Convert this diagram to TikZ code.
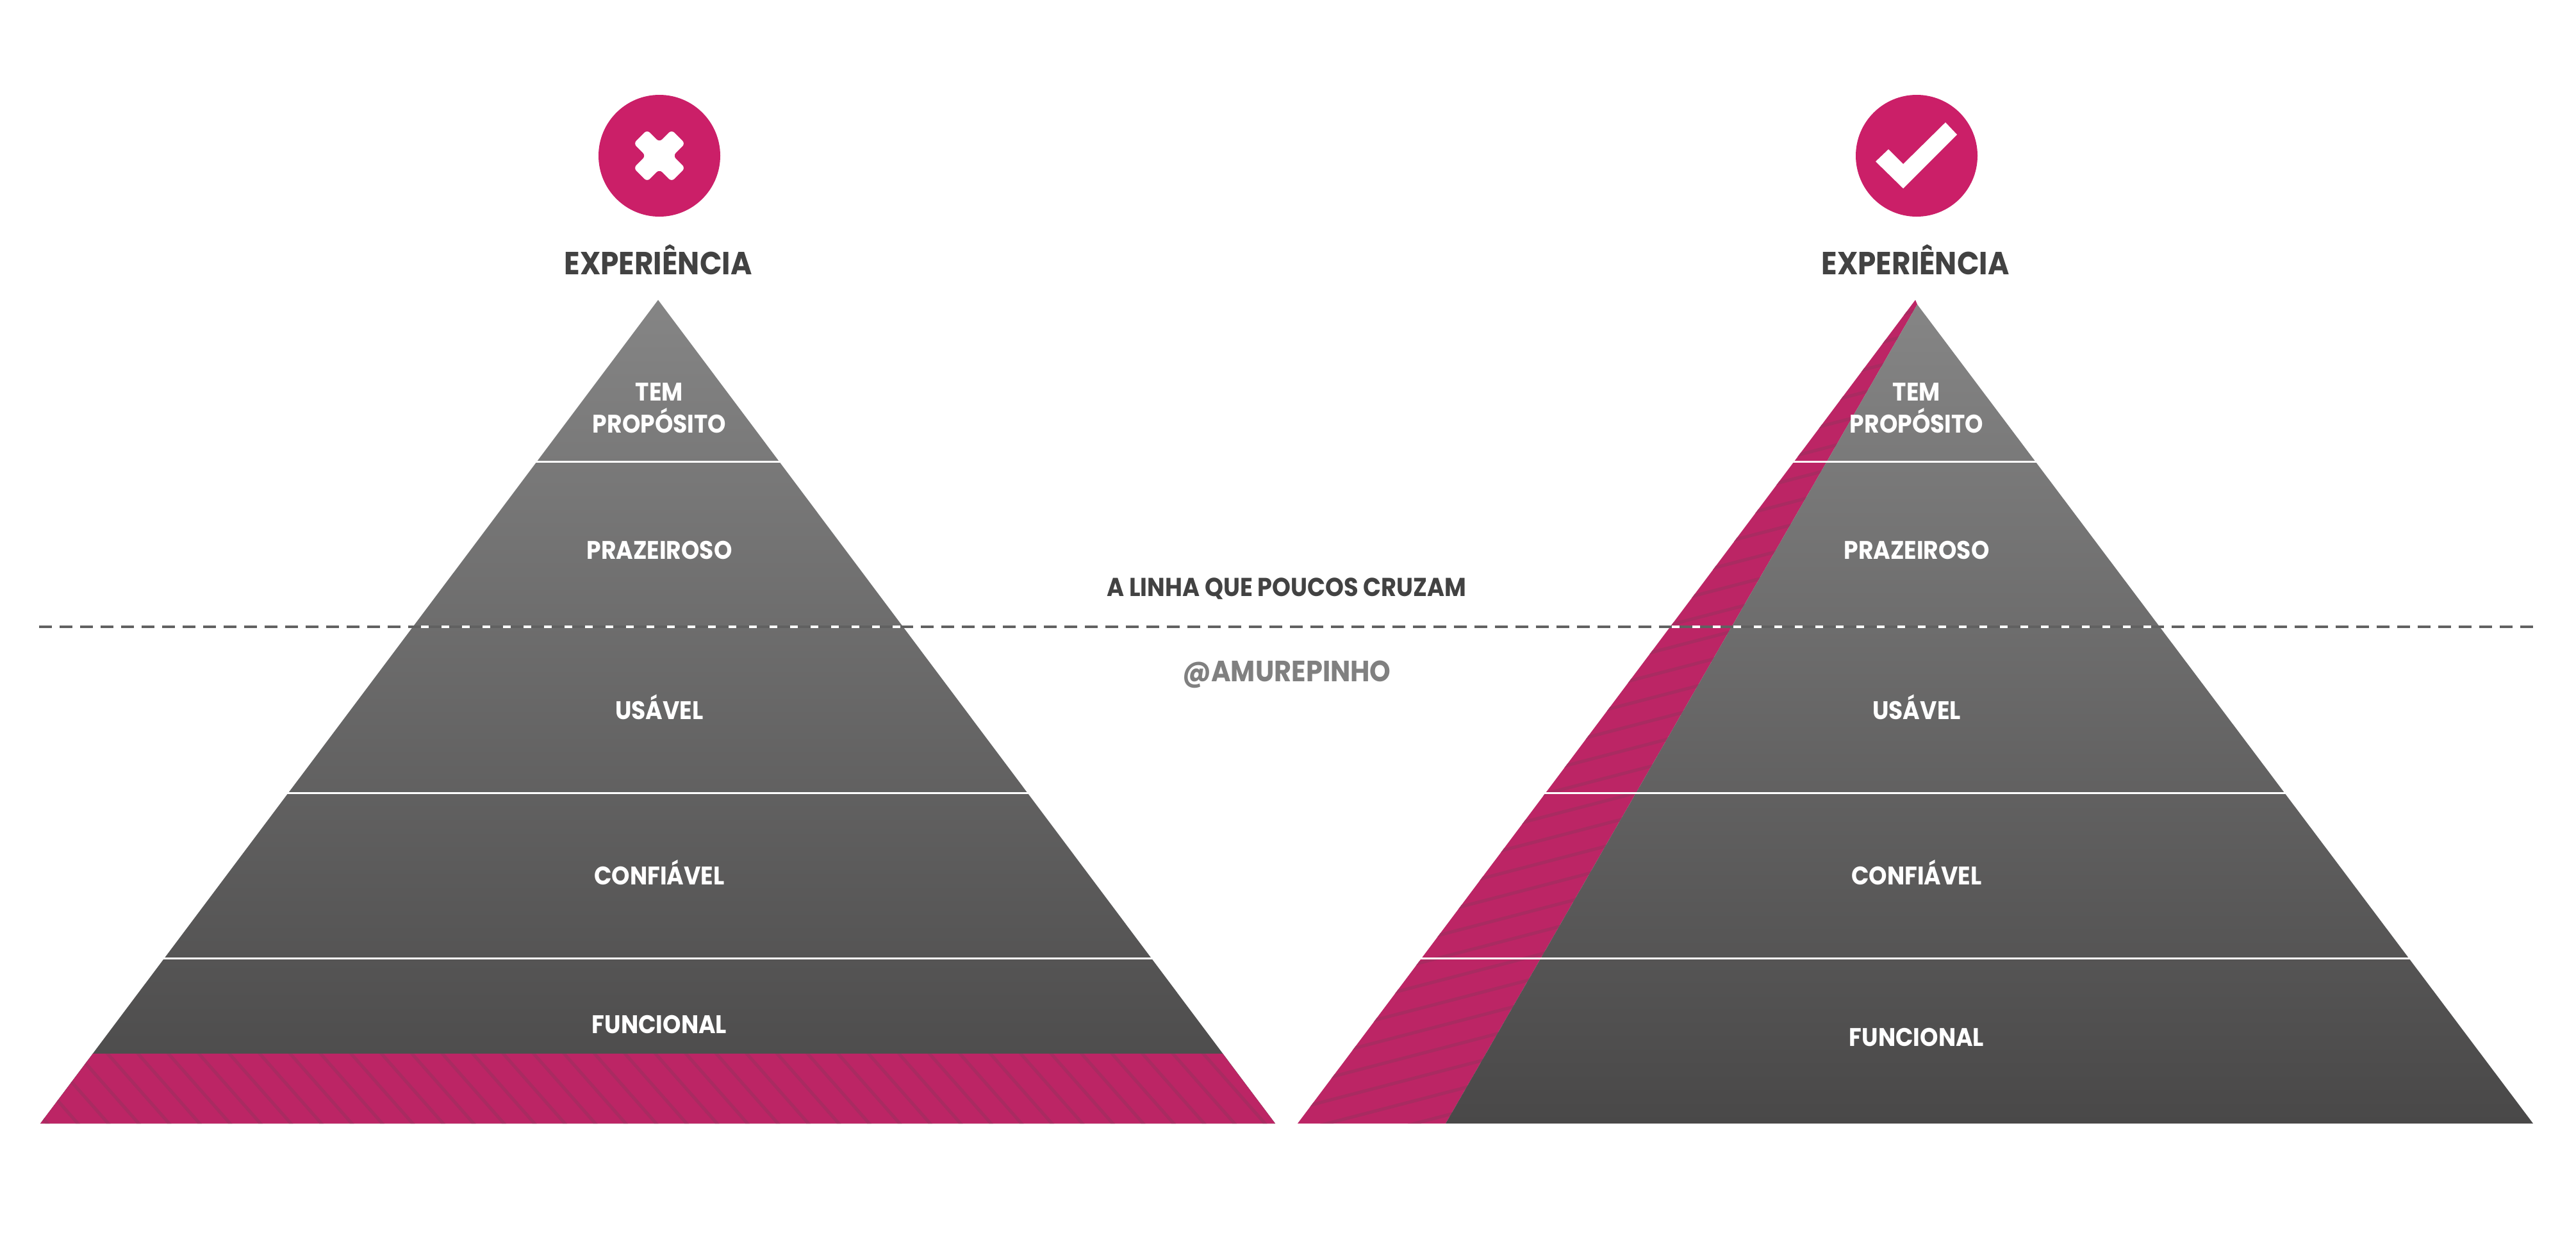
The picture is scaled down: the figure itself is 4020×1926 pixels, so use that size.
\documentclass[tikz,border=0pt]{standalone}
\usepackage{fontspec}
\setmainfont{Poppins}[FakeStretch=0.91]
\usetikzlibrary{positioning}
\definecolor{magenta}{HTML}{CB1F68}
\definecolor{bandpink}{HTML}{BC2565}
\definecolor{stripe}{HTML}{A92B61}
\definecolor{inkgray}{HTML}{424242}
\definecolor{topgray}{HTML}{858585}
\definecolor{basegray}{HTML}{494848}
\tikzset{
  title/.style={font=\fontsize{14.2}{14.2}\selectfont\bfseries,text=inkgray,anchor=base},
  layer/.style={font=\fontsize{11.3}{11.3}\selectfont\bfseries,text=white,anchor=base},
  badge/.style={circle,fill=magenta,minimum size=190*0.1mm,inner sep=0pt},
  divider/.style={white,line width=0.3mm},
  hatch/.style={stripe,line width=0.5mm},
}
\begin{document}
\begin{tikzpicture}[x=0.1mm,y=-0.1mm]
  \useasboundingbox (0,0) rectangle (4020,1926);
  \def \Dividers{720,1237,1495}
  \def \Labels{
    tem/625/TEM,
    proposito/675/PROPÓSITO,
    prazeiroso/872/PRAZEIROSO,
    usavel/1122/USÁVEL,
    confiavel/1380/CONFIÁVEL}
  % left pyramid
  \shade[top color=topgray,bottom color=basegray] (1027,468) -- (1990,1753) -- (63,1753) -- cycle;
  \fill[bandpink] (145,1644) -- (1908,1644) -- (1990,1753) -- (63,1753) -- cycle;
  \begin{scope}
    \clip (145,1644) -- (1908,1644) -- (1990,1753) -- (63,1753) -- cycle;
    \foreach \x in {-108.5,-61,...,2100}{
      \draw[hatch] (\x,1600) -- ++(150,170);
    }
  \end{scope}
  % right pyramid
  \fill[bandpink] (2025,1753) -- (2989,468) -- (2992,475) -- (2256,1753) -- cycle;
  \begin{scope}
    \clip (2025,1753) -- (2989,468) -- (2992,475) -- (2256,1753) -- cycle;
    \foreach \y in {684,719.5,...,1850}{
      \draw[hatch] (1950,\y) -- ++(1100,-286);
    }
  \end{scope}
  \shade[top color=topgray,bottom color=basegray] (2992,475) -- (3953,1753) -- (2256,1753) -- cycle;
  \foreach \y in \Dividers{
    \draw[divider] (40,\y) -- (2000,\y);
    \draw[divider] (2010,\y) -- (3970,\y);
  }
  % dashed line
  \coordinate (linestart) at (61,978);
  \coordinate (lineend) at (3953,978);
  \draw[white,line width=0.4mm] (linestart) -- (lineend);
  \draw[color=black!62,line width=0.4mm,dash pattern=on 2mm off 1.2mm] (linestart) -- (lineend);
  % badges
  \node[badge] (badwrong) at (1029,243) {};
  \node[badge] (badright) at (2991,243) {};
  \fill[white,rounded corners=0.6mm,shift={(badwrong)},rotate=45]
    (-15,-42) -- (15,-42) -- (15,-15) -- (42,-15) -- (42,15) -- (15,15)
    -- (15,42) -- (-15,42) -- (-15,15) -- (-42,15) -- (-42,-15) -- (-15,-15) -- cycle;
  \fill[white] (2947,233) -- (2970,256) -- (3036,191) -- (3054,210) -- (2970,294) -- (2927,252) -- cycle;
  % labels
  \node[title] (expwrong) at (1027,428) {EXPERIÊNCIA};
  \node[title] (expright) at (2989,428) {EXPERIÊNCIA};
  \foreach \id / \y / \txt in \Labels{
    \node[layer] (\id left) at (1029,\y) {\txt};
    \node[layer] (\id right) at (2991,\y) {\txt};
  }
  \node[layer] (funcleft) at (1029,1612) {FUNCIONAL};
  \node[layer] (funcright) at (2991,1632) {FUNCIONAL};
  \node[title,font=\fontsize{11.5}{11.5}\selectfont\bfseries] (crossing) at (2008,930) {A LINHA QUE POUCOS CRUZAM};
  \node[title,text=black!50,font=\fontsize{13}{13}\selectfont\bfseries] (handle) at (2008,1063) {@AMUREPINHO};
\end{tikzpicture}
\end{document}
